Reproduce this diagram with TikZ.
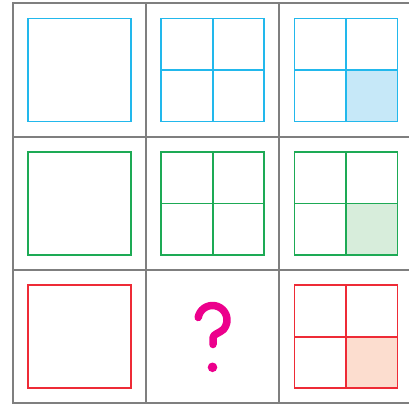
\documentclass[tikz,border=0pt]{standalone}
\definecolor{gridgray}{HTML}{7F7F7F}
\definecolor{cblue}{HTML}{22B8EC}
\definecolor{fblue}{HTML}{C6E8F8}
\definecolor{cgreen}{HTML}{1DAA55}
\definecolor{fgreen}{HTML}{D7EDDB}
\definecolor{cred}{HTML}{EE2B36}
\definecolor{fred}{HTML}{FCDDCF}
\definecolor{cmag}{HTML}{EC008C}
\tikzset{
  gridline/.style={draw=gridgray,line width=1.9pt},
  sq/.style={line width=1.6pt},
  qm/.style={draw=cmag,line width=7.5pt,line cap=round,line join=round},
}
\begin{document}
\begin{tikzpicture}[x=1pt,y=-1pt]
\useasboundingbox (0,0) rectangle (409,404);
% grid
\draw[gridline] (12.7,3.3) rectangle (412.6,403.3);
\draw[gridline] (146,3.3) -- (146,403.3);
\draw[gridline] (279.3,3.3) -- (279.3,403.3);
\draw[gridline] (12.7,136.7) -- (412.6,136.7);
\draw[gridline] (12.7,270) -- (412.6,270);
% rows
\foreach \cy/\col/\fil in {70/cblue/fblue,203.3/cgreen/fgreen,336.7/cred/fred}{
  % single square
  \draw[sq,draw=\col] (79.3-51.5,\cy-51.5) rectangle (79.3+51.5,\cy+51.5);
  % shaded quadrant in third column
  \fill[\fil] (346,\cy) rectangle (346+51.5,\cy+51.5);
  \draw[sq,draw=\col] (346-51.5,\cy-51.5) rectangle (346+51.5,\cy+51.5);
  \draw[sq,draw=\col] (346,\cy-51.5) -- (346,\cy+51.5);
  \draw[sq,draw=\col] (346-51.5,\cy) -- (346+51.5,\cy);
}
% four-square grids in middle column
\foreach \cy/\col in {70/cblue,203.3/cgreen}{
  \draw[sq,draw=\col] (212.7-51.5,\cy-51.5) rectangle (212.7+51.5,\cy+51.5);
  \draw[sq,draw=\col] (212.7,\cy-51.5) -- (212.7,\cy+51.5);
  \draw[sq,draw=\col] (212.7-51.5,\cy) -- (212.7+51.5,\cy);
}
% question mark
\draw[qm] (212.5,320) ++(190:14.5) arc[start angle=190,end angle=400,radius=14.5]
  .. controls (219,333.5) and (213,334) .. (213,338) -- (213,344.5);
\fill[cmag] (212.5,367.3) circle[radius=4.8];
\end{tikzpicture}
\end{document}
